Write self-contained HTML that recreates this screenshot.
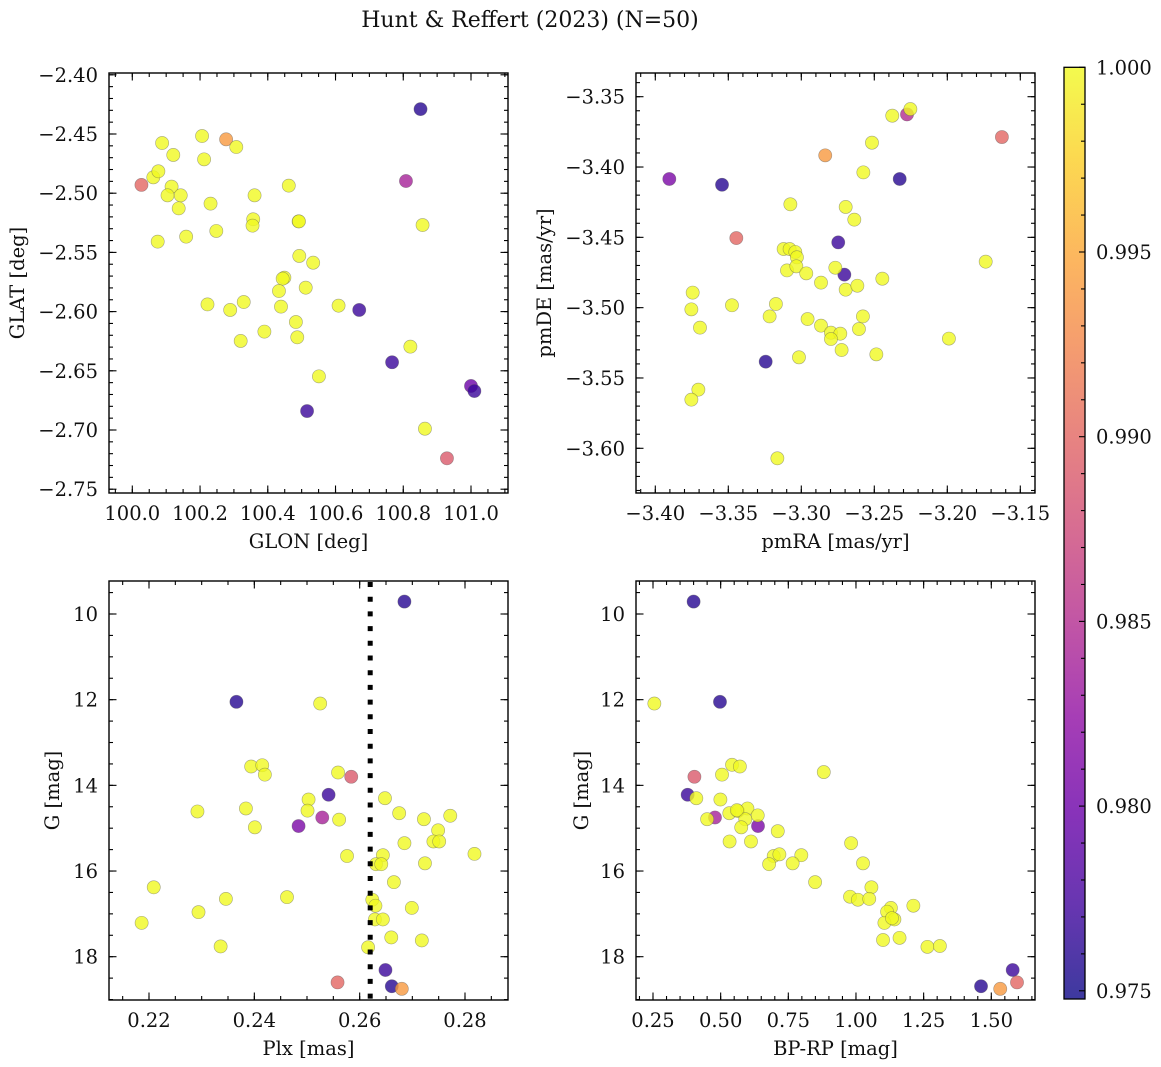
<!DOCTYPE html>
<html><head><meta charset="utf-8">
<style>
html,body{margin:0;padding:0;background:#fff;}
svg{display:block;font-family:"DejaVu Serif","Liberation Serif",serif;}
</style></head>
<body>
<svg id="fig" width="1161" height="1067" viewBox="0 0 1161 1067" xmlns="http://www.w3.org/2000/svg">
<defs>
<linearGradient id="cbgrad" x1="0" y1="1" x2="0" y2="0">
<stop offset="0" stop-color="#0d0887"/><stop offset="0.1" stop-color="#41049d"/>
<stop offset="0.2" stop-color="#6a00a8"/><stop offset="0.3" stop-color="#8f0da4"/>
<stop offset="0.4" stop-color="#b12a90"/><stop offset="0.5" stop-color="#cc4778"/>
<stop offset="0.6" stop-color="#e16462"/><stop offset="0.7" stop-color="#f2844b"/>
<stop offset="0.8" stop-color="#fca636"/><stop offset="0.9" stop-color="#fcce25"/>
<stop offset="1" stop-color="#f0f921"/>
</linearGradient>
</defs>
<text x="530" y="27" text-anchor="middle" font-size="22" fill="#111">Hunt &amp; Reffert (2023) (N=50)</text>
<g id="layer"></g>
</svg>
<script>
// ---- data (per panel) ----
const p1Glon = [100.027,100.851,100.277,100.808,100.670,100.767,101.000,101.010,100.516,100.929,
 100.088,100.121,100.206,100.212,100.307,100.062,100.077,100.116,100.104,100.143,100.137,100.231,100.248,100.159,100.075,
 100.361,100.357,100.355,100.462,100.491,100.492,100.857,100.493,100.534,100.449,100.444,100.433,100.512,100.222,100.289,
 100.329,100.439,100.609,100.483,100.487,100.390,100.320,100.821,100.551,100.864];
const p1Glat = [-2.493,-2.429,-2.4545,-2.4897,-2.5986,-2.6428,-2.6628,-2.6671,-2.684,-2.7239,
 -2.4576,-2.4677,-2.4517,-2.4714,-2.461,-2.4866,-2.4815,-2.4945,-2.5018,-2.5018,-2.5128,-2.5088,-2.5319,-2.5367,-2.5409,
 -2.5018,-2.522,-2.5274,-2.4936,-2.5238,-2.5238,-2.5269,-2.553,-2.5587,-2.5713,-2.5722,-2.5826,-2.5798,-2.5939,-2.5986,
 -2.5919,-2.5958,-2.595,-2.6088,-2.6217,-2.6169,-2.6248,-2.6296,-2.6547,-2.6989];
const p1Prob = [0.990,0.976,0.994,0.984,0.977,0.977,0.980,0.977,0.977,0.989,
 1,1,1,1,1,1,1,1,1,1,1,1,1,1,1,1,1,1,1,1,1,1,1,1,1,1,1,1,1,1,1,1,1,1,1,1,1,1,1,1];

const p2PmRA = [-3.3904,-3.3543,-3.3445,-3.2836,-3.2326,-3.2276,-3.2253,-3.2377,-3.1626,-3.2516,
 -3.2575,-3.3075,-3.2696,-3.2637,-3.2747,-3.2705,-3.1737,-3.3121,-3.308,-3.3041,
 -3.303,-3.3098,-3.3034,-3.2966,-3.2865,-3.2767,-3.2696,-3.2616,-3.2445,-3.3744,
 -3.3753,-3.3694,-3.3475,-3.3174,-3.3217,-3.2957,-3.2865,-3.2797,-3.2733,-3.2797,
 -3.2724,-3.2578,-3.2605,-3.2486,-3.3016,-3.3244,-3.1989,-3.3705,-3.3753,-3.3164];
const p2PmDE = [-3.4085,-3.4126,-3.4505,-3.3917,-3.4085,-3.3626,-3.3588,-3.3635,-3.3787,-3.3827,
 -3.4038,-3.4265,-3.4284,-3.4374,-3.4536,-3.4765,-3.4673,-3.4583,-3.4583,-3.4604,
 -3.4642,-3.4735,-3.4706,-3.4756,-3.4822,-3.4716,-3.4872,-3.4844,-3.4794,-3.4893,
 -3.5012,-3.5142,-3.4983,-3.4974,-3.5062,-3.5081,-3.5128,-3.5178,-3.5185,-3.5223,
 -3.5301,-3.5062,-3.5152,-3.5332,-3.5353,-3.5384,-3.522,-3.5583,-3.5654,-3.6071];
const p2Prob = [0.981,0.976,0.990,0.994,0.976,0.985,1,1,0.990,1,
 1,1,1,1,0.977,0.977,1,1,1,1,1,1,1,1,1,1,1,1,1,1,
 1,1,1,1,1,1,1,1,1,1,1,1,1,1,1,0.976,1,1,1,1];

const p3Plx = [0.2685,0.2366,0.2541,0.2649,0.2661,0.2484,0.2529,0.2584,0.2558,0.2680,
 0.2525,0.2394,0.2415,0.2420,0.2559,0.2648,0.2503,0.2501,0.2561,0.2292,
 0.2384,0.2401,0.2675,0.2722,0.2772,0.2749,0.2740,0.2751,0.2685,0.2576,
 0.2644,0.2631,0.2641,0.2818,0.2724,0.2665,0.2209,0.2346,0.2462,0.2624,
 0.2630,0.2699,0.2294,0.2629,0.2644,0.2186,0.2660,0.2718,0.2336,0.2616];
const p3G = [9.71,12.05,14.22,18.31,18.69,14.95,14.75,13.80,18.60,18.75,
 12.09,13.56,13.53,13.75,13.70,14.30,14.33,14.59,14.80,14.61,
 14.54,14.98,14.65,14.79,14.71,15.05,15.31,15.31,15.35,15.65,
 15.63,15.84,15.84,15.60,15.82,16.26,16.38,16.65,16.61,16.67,
 16.81,16.86,16.96,17.13,17.13,17.21,17.55,17.62,17.76,17.78];
const p3Prob = [0.976,0.976,0.977,0.977,0.976,0.981,0.984,0.989,0.990,0.994,
 1,1,1,1,1,1,1,1,1,1,1,1,1,1,1,1,1,1,1,1,1,1,1,1,1,1,1,1,1,1,1,1,1,1,1,1,1,1,1,1];
const p3PlxRef = 0.262;

const p4BpRp = [0.400,0.4975,0.378,1.579,1.462,0.638,0.479,0.403,1.595,1.533,
 0.255,0.542,0.571,0.505,0.881,0.410,0.499,0.532,0.564,0.599,
 0.637,0.450,0.591,0.576,0.711,0.533,0.612,0.982,0.696,0.717,
 0.679,0.798,0.766,1.026,0.849,1.057,0.978,1.007,1.049,1.212,
 1.129,1.115,1.142,1.105,1.100,1.161,1.264,1.310,0.560,1.133];
const p4G = [9.71,12.05,14.22,18.31,18.69,14.95,14.75,13.80,18.60,18.75,
 12.09,13.52,13.56,13.75,13.69,14.30,14.33,14.65,14.60,14.54,
 14.70,14.79,14.79,14.98,15.07,15.31,15.31,15.35,15.65,15.61,
 15.84,15.63,15.82,15.82,16.26,16.38,16.60,16.67,16.65,16.81,
 16.86,16.95,17.13,17.21,17.61,17.56,17.77,17.75,14.58,17.10];
const p4Prob = [0.976,0.976,0.977,0.977,0.976,0.981,0.984,0.989,0.990,0.994,
 1,1,1,1,1,1,1,1,1,1,1,1,1,1,1,1,1,1,1,1,1,1,1,1,1,1,1,1,1,1,1,1,1,1,1,1,1,1,1,1];

const cbTicks = [0.975,0.980,0.985,0.990,0.995,1.000];

// ---- helpers ----
const NS = "http://www.w3.org/2000/svg";
const layer = document.getElementById('layer');
const FS = 19.5;
function mk(tag, attrs, parent){ const e=document.createElementNS(NS,tag); for(const k in attrs) e.setAttribute(k,attrs[k]); (parent||layer).appendChild(e); return e; }
function lin(d0,p0,d1,p1){ const f=v=>p0+(v-d0)*(p1-p0)/(d1-d0); f.inv=p=>d0+(p-p0)*(d1-d0)/(p1-p0); return f; }
const stops=[[13,8,135],[65,4,157],[106,0,168],[143,13,164],[177,42,144],[204,71,120],[225,100,98],[242,132,75],[252,166,54],[252,206,37],[240,249,33]];
const VMIN=0.9748, VMAX=1.0;
function plasma(p){
  let t=(p-VMIN)/(VMAX-VMIN); t=Math.max(0,Math.min(1,t));
  const s=t*10, i=Math.min(9,Math.floor(s)), f=s-i;
  const c=[0,1,2].map(k=>stops[i][k]+(stops[i+1][k]-stops[i][k])*f);
  return `rgb(${c.map(v=>Math.round(v)).join(',')})`;
}
function fmt(v,d){ const s=Math.abs(v).toFixed(d); return (v<-1e-9?'\u2212':'')+s; }

function drawPanel(cfg){
  const g=mk('g',{});
  
  
  const b=cfg.box, xs=cfg.xs, ys=cfg.ys;
  const pg=mk('g',{},g);
  
  
  for(let i=0;i<cfg.x.length;i++){
    const c=mk('circle',{cx:xs(cfg.x[i]).toFixed(2),cy:ys(cfg.y[i]).toFixed(2),r:6.6,fill:plasma(cfg.p[i]),'fill-opacity':0.8,stroke:'#555','stroke-opacity':0.5,'stroke-width':0.6},pg);
    
    
  }
  if(cfg.extra) cfg.extra(g);
  const tg=mk('g',{stroke:'#000','stroke-width':1.1},g);
  
  
  function tickRange(scale,p0,p1,step){ const a=scale.inv(p0), c=scale.inv(p1); const lo=Math.min(a,c), hi=Math.max(a,c); const out=[]; for(let k=Math.ceil(lo/step-1e-6);k<=Math.floor(hi/step+1e-6);k++) out.push(k*step); return out; }
  const xMaj=tickRange(xs,b.x0,b.x1,cfg.xMaj), xMin=tickRange(xs,b.x0,b.x1,cfg.xMin);
  const yMaj=tickRange(ys,b.y0,b.y1,cfg.yMaj), yMin=tickRange(ys,b.y0,b.y1,cfg.yMin);
  xMin.forEach(v=>{const p=xs(v); mk('line',{x1:p,x2:p,y1:b.y1,y2:b.y1-4},tg); mk('line',{x1:p,x2:p,y1:b.y0,y2:b.y0+4},tg);});
  xMaj.forEach(v=>{const p=xs(v); mk('line',{x1:p,x2:p,y1:b.y1,y2:b.y1-7.5},tg); mk('line',{x1:p,x2:p,y1:b.y0,y2:b.y0+7.5},tg);});
  yMin.forEach(v=>{const p=ys(v); mk('line',{y1:p,y2:p,x1:b.x0,x2:b.x0+4},tg); mk('line',{y1:p,y2:p,x1:b.x1,x2:b.x1-4},tg);});
  yMaj.forEach(v=>{const p=ys(v); mk('line',{y1:p,y2:p,x1:b.x0,x2:b.x0+7.5},tg); mk('line',{y1:p,y2:p,x1:b.x1,x2:b.x1-7.5},tg);});
  const fr=mk('rect',{x:b.x0,y:b.y0,width:b.x1-b.x0,height:b.y1-b.y0,fill:'none',stroke:'#000','stroke-width':1.4},g);
  
  
  xMaj.forEach(v=>{ const t=mk('text',{x:xs(v),y:b.y1+27,'text-anchor':'middle','font-size':FS,fill:'#111'},g); t.textContent=fmt(v,cfg.xDec);
    
     });
  yMaj.forEach(v=>{ const t=mk('text',{x:b.x0-11,y:ys(v)+7,'text-anchor':'end','font-size':FS,fill:'#111'},g); t.textContent=fmt(v,cfg.yDec);
    
     });
  const xt=mk('text',{x:(b.x0+b.x1)/2,y:b.y1+55,'text-anchor':'middle','font-size':FS,fill:'#111'},g); xt.textContent=cfg.xLabel;
  
  
  const cy=(b.y0+b.y1)/2;
  const yt=mk('text',{x:cfg.yLabelX,y:cy,'text-anchor':'middle','font-size':FS,fill:'#111',transform:`rotate(-90 ${cfg.yLabelX} ${cy})`},g); yt.textContent=cfg.yLabel;
  
  
}

const ysG = lin(10,614,18,956.7);
drawPanel({name:'panel-glon-glat',box:{x0:109,x1:508,y0:73,y1:493},xs:lin(100,132.3,101,471),ys:lin(-2.45,134,-2.70,430),
  x:p1Glon,y:p1Glat,p:p1Prob,xMaj:0.2,xMin:0.05,yMaj:0.05,yMin:0.01,xDec:1,yDec:2,xLabel:'GLON [deg]',yLabel:'GLAT [deg]',yLabelX:24});
drawPanel({name:'panel-pmra-pmde',box:{x0:636,x1:1035,y0:73,y1:493},xs:lin(-3.40,655.3,-3.15,1020.3),ys:lin(-3.35,96.7,-3.60,448.3),
  x:p2PmRA,y:p2PmDE,p:p2Prob,xMaj:0.05,xMin:0.01,yMaj:0.05,yMin:0.01,xDec:2,yDec:2,xLabel:'pmRA [mas/yr]',yLabel:'pmDE [mas/yr]',yLabelX:551});
const xsPlx=lin(0.22,149,0.28,465);
drawPanel({name:'panel-plx-g',box:{x0:109,x1:508,y0:581,y1:1000},xs:xsPlx,ys:ysG,
  x:p3Plx,y:p3G,p:p3Prob,xMaj:0.02,xMin:0.005,yMaj:2,yMin:0.5,xDec:2,yDec:0,xLabel:'Plx [mas]',yLabel:'G [mag]',yLabelX:59,
  extra:(g)=>{ const l=mk('line',{x1:xsPlx(p3PlxRef),x2:xsPlx(p3PlxRef),y1:582,y2:1000,stroke:'#000','stroke-width':5,'stroke-dasharray':'5 9.7'},g);
    
     }});
drawPanel({name:'panel-color-magnitude',box:{x0:636,x1:1035,y0:581,y1:1000},xs:lin(0.25,653,1.5,991.3),ys:ysG,
  x:p4BpRp,y:p4G,p:p4Prob,xMaj:0.25,xMin:0.05,yMaj:2,yMin:0.5,xDec:2,yDec:0,xLabel:'BP-RP [mag]',yLabel:'G [mag]',yLabelX:588});

// colorbar
(function(){
  const g=mk('g',{});
  
  
  const cs=lin(1.0,67.3,0.975,990.8);
  const top=cs(1.0), bot=999;
  mk('rect',{x:1064,y:top,width:21,height:bot-top,fill:'url(#cbgrad)','fill-opacity':0.8},g);
  for(let k=975;k<=1000;k++){ const p=cs(k/1000); const maj=(k%5===0); mk('line',{x1:1085,x2:1085-(maj?6:4),y1:p,y2:p,stroke:'#000','stroke-width':1.1},g); }
  mk('rect',{x:1064,y:top,width:21,height:bot-top,fill:'none',stroke:'#000','stroke-width':1.3},g);
  cbTicks.forEach(v=>{ const t=mk('text',{x:1096,y:cs(v)+7,'font-size':FS,fill:'#111'},g); t.textContent=v.toFixed(3);
    
     });
})();
</script>
</body></html>
